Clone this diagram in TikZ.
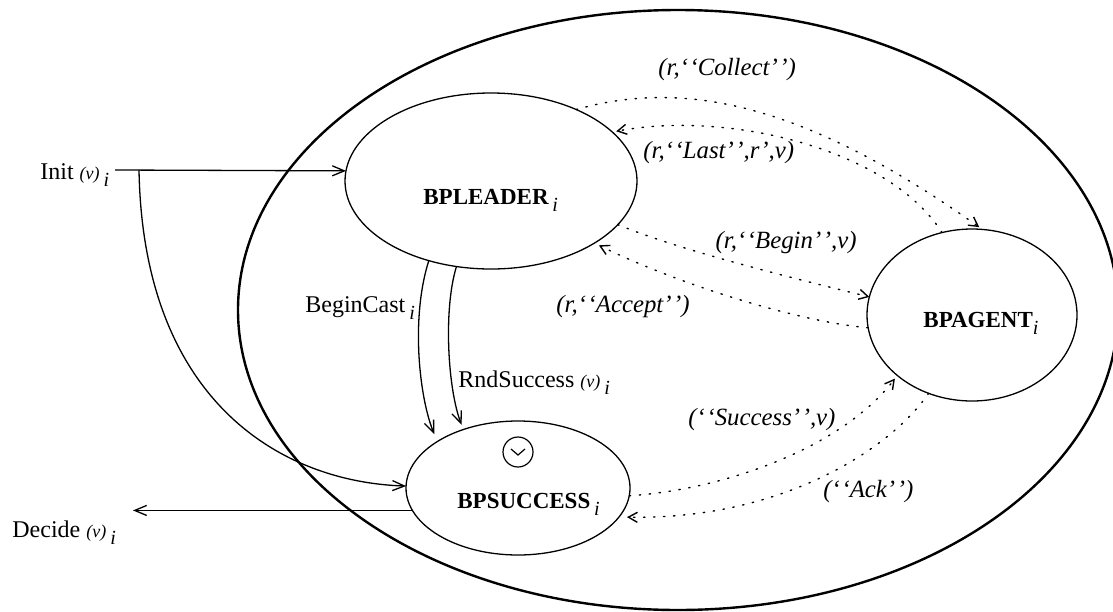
\documentclass[tikz,border=0pt]{standalone}
\usepackage{fontspec}
\setmainfont{Liberation Serif}
\usetikzlibrary{shapes.geometric,arrows.meta}
\newcommand\lowsub[1]{\raisebox{-3.5pt}{\fontsize{10}{10}\selectfont\mdseries\itshape #1}}
\newcommand\smallv{{\fontsize{9}{10}\selectfont\mdseries\itshape (v)}}
\newcommand\oqq{`\kern0.8pt`}
\newcommand\cqq{'\kern0.8pt'}
\begin{document}
\begin{tikzpicture}[x=0.5pt,y=-0.5pt,
  state/.style={draw,ellipse,line width=0.65pt,inner sep=0pt,outer sep=0pt},
  boldlbl/.style={font=\fontsize{11.5}{13}\selectfont\bfseries,inner sep=0pt,anchor=base west},
  txt/.style={font=\fontsize{12}{14}\selectfont,inner sep=0pt,anchor=base west},
  msg/.style={font=\fontsize{12.4}{14}\selectfont\itshape,inner sep=0pt,anchor=base west},
  arr/.style={line width=0.65pt,-{Straight Barb[length=6pt,width=5pt]}},
  darr/.style={line width=0.7pt,dash pattern=on 0.7pt off 4.3pt,line cap=round,-{Straight Barb[length=4.5pt,width=5pt]}},
]
\useasboundingbox (0,0) rectangle (1113,611);
% outer automaton boundary
\node[draw,ellipse,line width=1.2pt,minimum width=440pt,minimum height=300pt,inner sep=0pt,outer sep=0pt] (outer) at (678,310) {};
% states
\node[state,minimum width=146pt,minimum height=88pt] (lead) at (491,181) {};
\node[state,minimum width=105pt,minimum height=86pt] (agent) at (972,315) {};
\node[state,minimum width=112pt,minimum height=67pt] (succ) at (518,488) {};
\node[draw,circle,line width=0.6pt,minimum size=15pt,inner sep=0pt] (cond) at (518,452) {};
\draw[line width=0.6pt] ([shift={(-7,-3)}]cond.center) -- ([shift={(0,3)}]cond.center) -- ([shift={(7,-3)}]cond.center);
% state labels
\node[boldlbl] (leadlbl) at (423,204) {BPLEADER\,\lowsub{i}};
\node[boldlbl] (agentlbl) at (923,327) {BPAGENT\lowsub{i}};
\node[boldlbl] (succlbl) at (457,508) {BPSUCCESS\,\lowsub{i}};
% external actions
\node[txt] (initlbl) at (40,179) {Init \smallv\,\lowsub{i}};
\node[txt] (declbl) at (12,537) {Decide \smallv\,\lowsub{i}};
\coordinate (initstart) at (115,170);
\coordinate (branch) at (139,170);
\coordinate (decend) at (133,511);
\draw[arr] (initstart) -- (lead.176);
\draw[arr] (branch) .. controls (143,400) and (280,482) .. (succ.179);
\draw[arr] (succ.192) -- (succ.192 -| decend);
% internal actions
\node[txt] (bclbl) at (305,312) {BeginCast\,\lowsub{i}};
\node[txt] (rslbl) at (458,387) {RndSuccess \smallv\,\lowsub{i}};
\draw[arr,shorten >=4pt] (lead.232) .. controls (410,320) and (420,400) .. (succ.150);
\draw[arr,shorten >=2.5pt] (lead.248) .. controls (443,310) and (448,390) .. (succ.133);
% messages
\node[msg] (m1) at (658,75) {(r,\oqq Collect\cqq)};
\node[msg] (m2) at (643,158) {(r,\oqq Last\cqq,r',v)};
\node[msg,anchor=base east] (m3) at (857,248) {(r,\oqq Begin\cqq,v)};
\node[msg] (m4) at (556,312) {(r,\oqq Accept\cqq)};
\node[msg] (m5) at (688,425) {(\oqq Success\cqq,v)};
\node[msg] (m6) at (823,497) {(\oqq Ack\cqq)};
\draw[darr,shorten >=2pt] (lead.40) .. controls (680,80) and (800,100) .. (agent.83);
\draw[darr,shorten >=2pt] (agent.110) .. controls (890,150) and (730,110) .. (lead.22);
\draw[darr] (lead.-19) .. controls (680,250) and (780,275) .. (agent.170);
\draw[darr,shorten >=2.5pt] (agent.187) .. controls (800,322) and (680,285) .. (lead.-31);
\draw[darr,shorten >=2pt] (succ.-4) .. controls (720,490) and (840,450) .. (agent.219);
\draw[darr,shorten >=4pt] (agent.241) .. controls (890,450) and (780,520) .. (succ.-16);
\end{tikzpicture}
\end{document}
